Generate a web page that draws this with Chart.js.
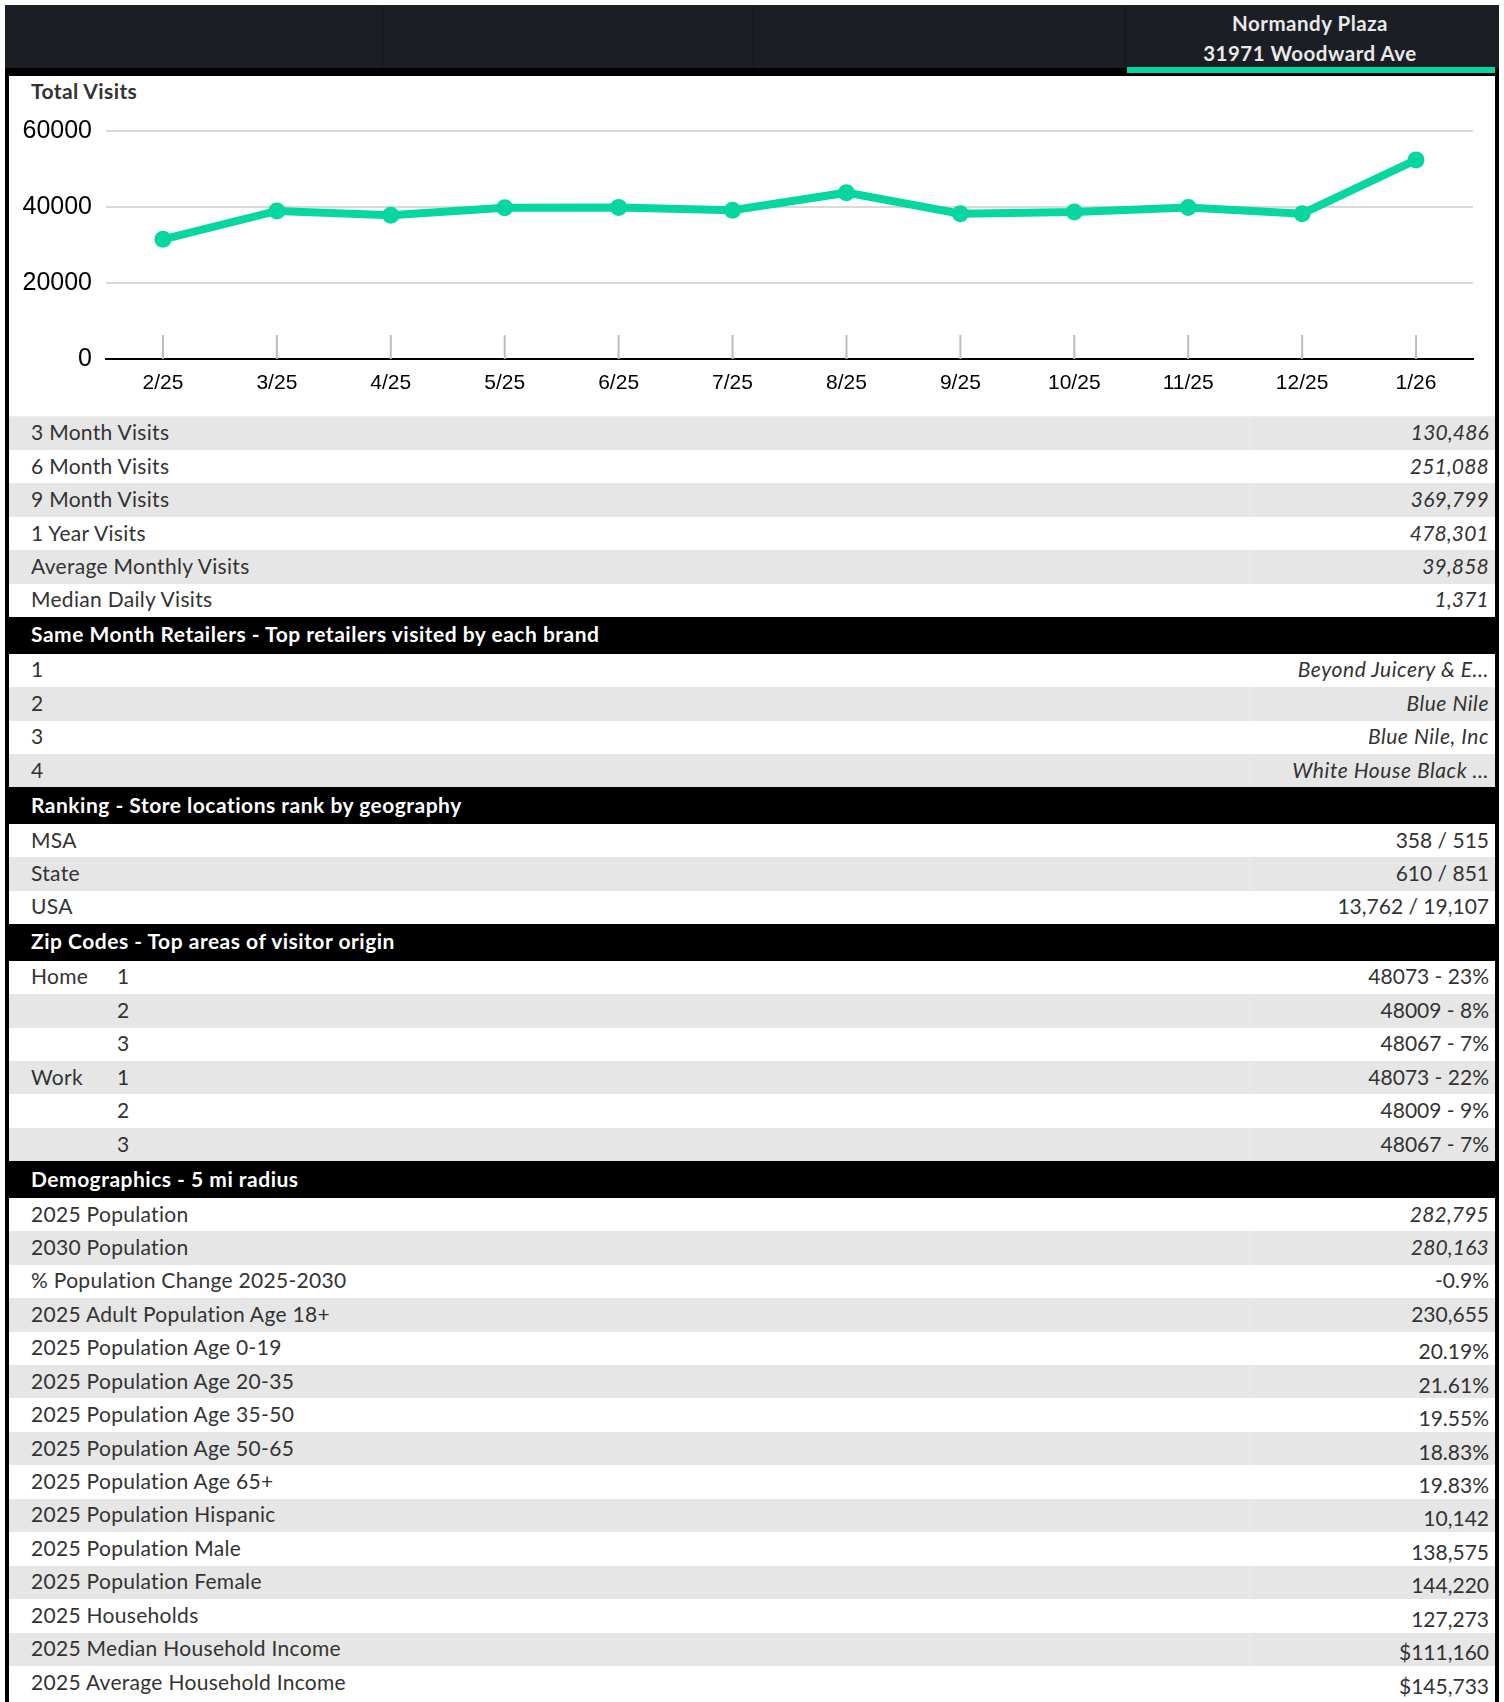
<!DOCTYPE html>
<html>
<head>
<meta charset="utf-8">
<script src="https://cdn.jsdelivr.net/npm/chart.js@4.4.1/dist/chart.umd.min.js"></script>
<style>
html, body { margin: 0; padding: 0; overflow: hidden; background: #fff; }
body { width: 1504px; height: 1702px; position: relative; font-family: Lato, "Noto Sans", sans-serif; color: #333; }
#top { position: absolute; left: 5px; top: 5px; width: 1494px; height: 63px; background: #1b1e24; }
#top .sep { position: absolute; top: 0; width: 1px; height: 63px; background: #121418; }
#place { position: absolute; left: 1120px; width: 370px; top: 3px; color: #e9e9e9; font-weight: 700; font-size: 20.5px; letter-spacing: 0.5px; text-align: center; line-height: 30px; }
#bar { position: absolute; left: 5px; top: 68px; width: 1494px; height: 8px; background: #000; }
#green { position: absolute; left: 1127px; top: 67px; width: 368px; height: 6px; background: #06d6a0; }
#frame { position: absolute; left: 5px; top: 76px; width: 1486px; height: 1626px; border-left: 4px solid #000; border-right: 4px solid #000; }
#title { position: absolute; left: 22px; top: 2px; font-size: 21px; font-weight: 700; letter-spacing: 0.4px; color: #333; line-height: 26px; }
#chartBox { position: absolute; left: 0; top: 25px; width: 1486px; height: 312px; }
#table { position: absolute; left: 0; top: 339.5px; width: 1486px; border-top: 1px solid #ececec; }
.row { position: relative; height: 33.45px; display: flex; align-items: center; justify-content: space-between; padding: 0 6px 3px 22px; box-sizing: border-box; font-size: 21px; background: #fff; }
.row > span:first-child { letter-spacing: 0.3px; }
.row.g { background: #e6e6e6; }
.row.g::after { content: ""; position: absolute; left: 1240px; top: 0; width: 1px; height: 100%; background: #ebebeb; }
.row.hd { height: 36.5px; background: #000; color: #fff; font-weight: 700; }
.row.hd > span:first-child { letter-spacing: 0.5px; }
.row.hd::after { display: none; }
.k { display: inline-block; width: 86px; }
.i { font-style: italic; letter-spacing: 0.2px; }
.ir { font-style: italic; letter-spacing: 0.55px; }
.lo { position: relative; top: 4px; }
</style>
</head>
<body>
<div id="top">
  <div class="sep" style="left:377px"></div>
  <div class="sep" style="left:748px"></div>
  <div class="sep" style="left:1120px"></div>
  <div id="place">Normandy Plaza<br>31971 Woodward Ave</div>
</div>
<div id="bar"></div>
<div id="green"></div>
<div id="frame">
  <div id="title">Total Visits</div>
  <div id="chartBox"><canvas id="visits"></canvas></div>
  <div id="table"></div>
</div>
<script>
const months = ['2/25', '3/25', '4/25', '5/25', '6/25', '7/25', '8/25', '9/25', '10/25', '11/25', '12/25', '1/26'];
const visits = [31500, 38950, 37800, 39820, 39900, 39130, 43770, 38240, 38680, 39850, 38240, 52400];
const yTicks = [0, 20000, 40000, 60000];

const visitLabels = ['3 Month Visits', '6 Month Visits', '9 Month Visits', '1 Year Visits', 'Average Monthly Visits', 'Median Daily Visits'];
const visitValues = ['130,486', '251,088', '369,799', '478,301', '39,858', '1,371'];
const retailers = ['Beyond Juicery & E...', 'Blue Nile', 'Blue Nile, Inc', 'White House Black ...'];
const rankLabels = ['MSA', 'State', 'USA'];
const rankValues = ['358 / 515', '610 / 851', '13,762 / 19,107'];
const zipHome = ['48073 - 23%', '48009 - 8%', '48067 - 7%'];
const zipWork = ['48073 - 22%', '48009 - 9%', '48067 - 7%'];
const demoLabels = ['2025 Population', '2030 Population', '% Population Change 2025-2030', '2025 Adult Population Age 18+',
  '2025 Population Age 0-19', '2025 Population Age 20-35', '2025 Population Age 35-50', '2025 Population Age 50-65',
  '2025 Population Age 65+', '2025 Population Hispanic', '2025 Population Male', '2025 Population Female',
  '2025 Households', '2025 Median Household Income', '2025 Average Household Income'];
const demoValues = ['282,795', '280,163', '-0.9%', '230,655', '20.19%', '21.61%', '19.55%', '18.83%', '19.83%',
  '10,142', '138,575', '144,220', '127,273', '$111,160', '$145,733'];

//table
const table = document.getElementById('table');
function addRow(cls, left, right, rightCls) {
  const r = document.createElement('div');
  r.className = 'row ' + cls;
  r.innerHTML = '<span>' + left + '</span><span class="' + (rightCls || '') + '">' + (right || '') + '</span>';
  table.appendChild(r);
}
function addHead(text) { addRow('hd', text, ''); }

visitLabels.forEach((l, i) => addRow(i % 2 === 0 ? 'g' : '', l, visitValues[i], 'i'));
addHead('Same Month Retailers - Top retailers visited by each brand');
retailers.forEach((r, i) => addRow(i % 2 === 1 ? 'g' : '', String(i + 1), r, 'ir'));
addHead('Ranking - Store locations rank by geography');
rankLabels.forEach((l, i) => addRow(i % 2 === 1 ? 'g' : '', l, rankValues[i]));
addHead('Zip Codes - Top areas of visitor origin');
zipHome.concat(zipWork).forEach((z, i) => {
  const group = i === 0 ? 'Home' : (i === 3 ? 'Work' : '');
  addRow(i % 2 === 1 ? 'g' : '', '<span class="k">' + group + '</span>' + ((i % 3) + 1), z);
});
addHead('Demographics - 5 mi radius');
demoLabels.forEach((l, i) => addRow(i % 2 === 1 ? 'g' : '', l, demoValues[i], i < 2 ? 'i' : (i > 3 ? 'lo' : '')));

//chart
const tickMarks = {
  id: 'tickMarks',
  beforeDatasetsDraw(chart) {
    const x = chart.scales.x;
    const ctx = chart.ctx;
    const b = chart.chartArea.bottom;
    ctx.save();
    ctx.strokeStyle = '#bdbdbd';
    ctx.lineWidth = 2;
    x.ticks.forEach((t, i) => {
      const px = x.getPixelForTick(i);
      ctx.beginPath();
      ctx.moveTo(px, b - 24);
      ctx.lineTo(px, b);
      ctx.stroke();
    });
    ctx.restore();
  }
};

const tickFont = '"Liberation Sans", Arial, sans-serif';
new Chart(document.getElementById('visits'), {
  type: 'line',
  data: {
    labels: months,
    datasets: [{
      data: visits,
      borderColor: '#06d6a0',
      backgroundColor: '#06d6a0',
      borderWidth: 8,
      pointRadius: 8.5,
      pointBorderWidth: 0,
      pointBackgroundColor: '#06d6a0',
      tension: 0,
      clip: false
    }]
  },
  options: {
    responsive: true,
    maintainAspectRatio: false,
    animation: false,
    layout: { padding: { top: 30, right: 22, bottom: 0, left: 0 } },
    plugins: { legend: { display: false }, tooltip: { enabled: false } },
    scales: {
      x: {
        offset: true,
        grid: { display: false, drawTicks: false },
        border: { color: '#000', width: 2 },
        ticks: { color: '#000', font: { family: tickFont, size: 21 }, padding: 12, maxRotation: 0, autoSkip: false },
        afterFit(s) { s.height = 54; }
      },
      y: {
        min: 0,
        max: 60000,
        afterBuildTicks(s) { s.ticks = yTicks.map(v => ({ value: v })); },
        grid: { color: c => (c.tick && c.tick.value === 0 ? 'rgba(0,0,0,0)' : '#d9d9d9'), lineWidth: 2, drawTicks: false },
        border: { display: false },
        ticks: { color: '#000', font: { family: tickFont, size: 25 }, padding: 14, callback: v => String(v) },
        afterFit(s) { s.width = 97; }
      }
    }
  },
  plugins: [tickMarks]
});
</script>
</body>
</html>
